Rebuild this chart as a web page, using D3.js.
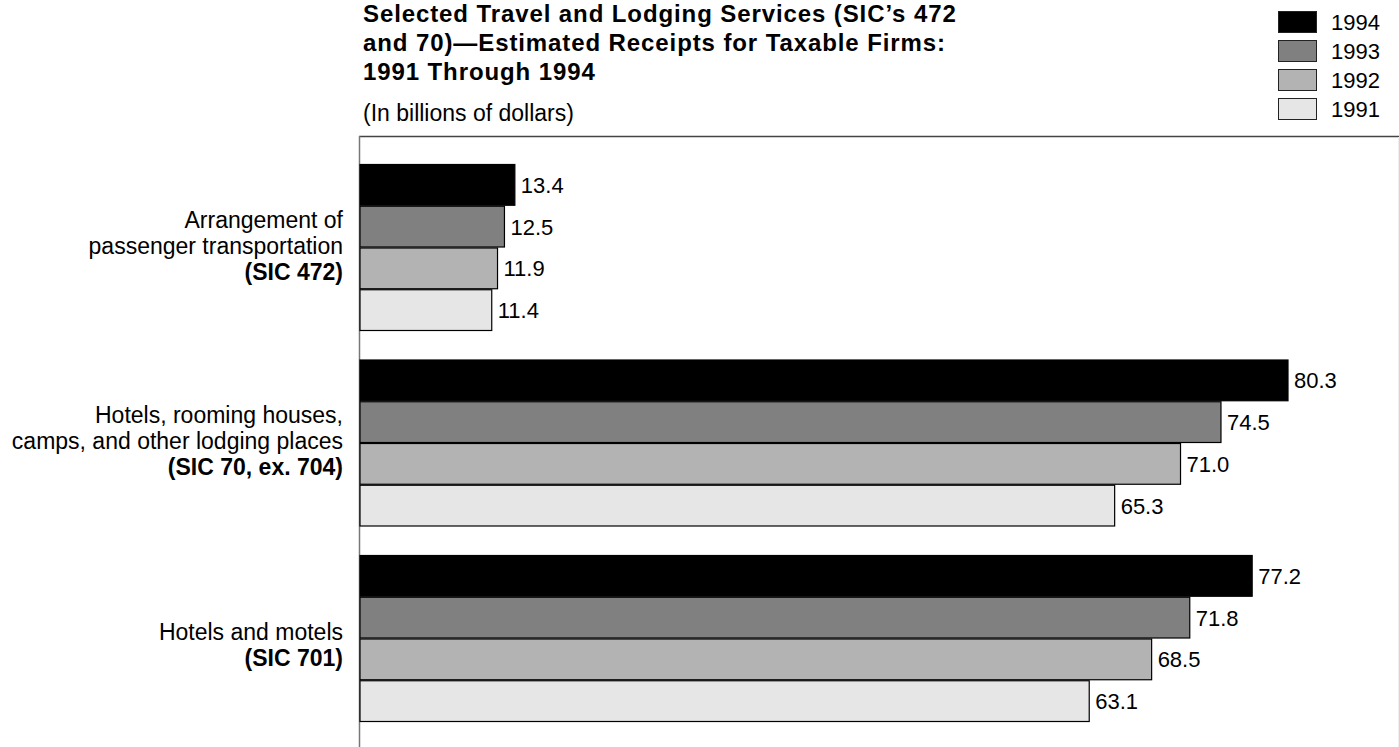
<!DOCTYPE html>
<html><head><meta charset="utf-8">
<script src="https://cdn.jsdelivr.net/npm/d3@7"></script>
<style>body{margin:0;background:#fff}svg{display:block;font-family:"Liberation Sans",Arial,sans-serif}</style>
</head><body><svg id="c" width="1399" height="747"></svg>
<script>
const categories = ["Arrangement of passenger transportation (SIC 472)", "Hotels, rooming houses, camps, and other lodging places (SIC 70, ex. 704)", "Hotels and motels (SIC 701)"];
const categoryLines = [
  [["Arrangement of ", false], ["passenger transportation", false], ["(SIC 472)", true]],
  [["Hotels, rooming houses,", false], ["camps, and other lodging places", false], ["(SIC 70, ex. 704)", true]],
  [["Hotels and motels", false], ["(SIC 701)", true]]
];
const years = ["1994", "1993", "1992", "1991"];
const v1994 = [13.4, 80.3, 77.2];
const v1993 = [12.5, 74.5, 71.8];
const v1992 = [11.9, 71.0, 68.5];
const v1991 = [11.4, 65.3, 63.1];
const colors = ["#000000", "#808080", "#b3b3b3", "#e6e6e6"];
const titleLines = ["Selected Travel and Lodging Services (SIC\u2019s 472", "and 70)\u2014Estimated Receipts for Taxable Firms:", "1991 Through 1994"];
const subtitle = "(In billions of dollars)";

const series = [v1994, v1993, v1992, v1991];
const svg = d3.select("#c");
const x = d3.scaleLinear().domain([0, 80.3]).range([360, 1288]);
const y = d3.scaleBand().domain(categories).range([164, 722]).paddingInner(0.1458).paddingOuter(0);
const yi = d3.scaleBand().domain(years).range([0, y.bandwidth()]).padding(0);

// frame
svg.append("line").attr("x1", 359).attr("x2", 1399).attr("y1", 136.5).attr("y2", 136.5).attr("stroke", "#444").attr("stroke-width", 1.3);
svg.append("line").attr("x1", 1398.5).attr("x2", 1398.5).attr("y1", 137).attr("y2", 747).attr("stroke", "#eee").attr("stroke-width", 1);
svg.append("line").attr("x1", 359.5).attr("x2", 359.5).attr("y1", 136).attr("y2", 747).attr("stroke", "#777").attr("stroke-width", 1.5);

// title
const t = svg.append("text").attr("font-weight", "bold").attr("font-size", 24).attr("letter-spacing", "0.9px").attr("fill", "#000");
titleLines.forEach((l, i) => t.append("tspan").attr("x", 363).attr("y", 22 + i * 29).text(l));
svg.append("text").attr("x", 363).attr("y", 121).attr("font-size", 23).text(subtitle);

// bars
categories.forEach((c, ci) => {
  const g = svg.append("g").attr("transform", `translate(0,${y(c)})`);
  years.forEach((yr, k) => {
    const val = series[k][ci];
    g.append("rect").attr("x", x(0)).attr("y", yi(yr) + 0.5).attr("width", x(val) - x(0)).attr("height", yi.bandwidth() - 1)
      .attr("fill", colors[k]).attr("stroke", "#000").attr("stroke-width", 1.2);
    g.append("text").attr("x", x(val) + 6).attr("y", yi(yr) + yi.bandwidth() / 2).attr("dy", "0.36em")
      .attr("font-size", 22).text(val.toFixed(1));
  });
  const lines = categoryLines[ci];
  const n = lines.length;
  const adj = n === 3 ? -2 : 6;
  const cy = y(c) + y.bandwidth() / 2 + adj;
  lines.forEach((ln, li) => {
    svg.append("text").attr("x", 343).attr("y", cy + (li - (n - 1) / 2) * 26).attr("dy", "0.36em")
      .attr("text-anchor", "end").attr("font-size", 23).attr("font-weight", ln[1] ? "bold" : "normal").text(ln[0]);
  });
});

// legend
years.forEach((yr, i) => {
  svg.append("rect").attr("x", 1278.5).attr("y", 11.5 + i * 29).attr("width", 38).attr("height", 21)
    .attr("fill", colors[i]).attr("stroke", "#222").attr("stroke-width", 1);
  svg.append("text").attr("x", 1331).attr("y", 22 + i * 29).attr("dy", "0.36em").attr("font-size", 22).text(yr);
});
</script></body></html>
